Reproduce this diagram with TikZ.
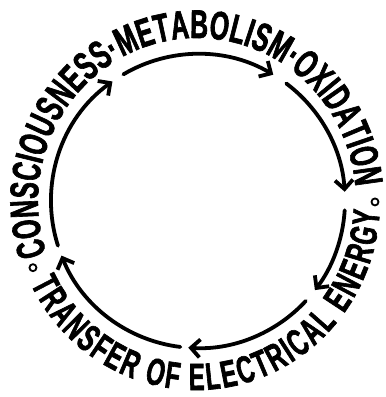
\documentclass[tikz,border=0pt]{standalone}
\usepackage{fontspec}
\setmainfont{Liberation Sans}
\newfontfamily\ringfont{Liberation Sans Bold}[FakeStretch=0.62, FakeBold=1.6]
\usetikzlibrary{arrows.meta,decorations.text}

\begin{document}
\begin{tikzpicture}[x=1pt,y=1pt,
	cyclearrow/.style={line width=3.8pt, line cap=round, -{Straight Barb[length=9pt,width=18pt]}},
	ringtext/.style 2 args={decorate, decoration={text along path, text align=fit to path, text={|\ringfont\fontsize{#1}{#1}\selectfont|#2}}},
	joint/.style={line width=1.8pt}]
	\useasboundingbox (-198,-196) rectangle (188,201);
	\foreach \a/\b in {120.5/59.2, 53.1/3.6, -3.6/-37.3, -42.8/-93.8, -96.9/-158.2, -162.3/-234.4} {
		\draw[cyclearrow] (\a:147) arc[start angle=\a, end angle=\b, radius=147];
	}
	\path[ringtext={40}{CONSCIOUSNESS·METABOLISM·OXIDATION}] ([xshift=-1pt]199:159 and 163) arc[start angle=199, end angle=5, x radius=159, y radius=163];
	\path[ringtext={38}{TRANSFER OF ELECTRICAL ENERGY}] ([xshift=-2pt]206:184 and 189) arc[start angle=206, end angle=357, x radius=184, y radius=189];
	\foreach \p in {202:178, -0.3:177} {
		\draw[joint] (\p) circle[radius=3.5pt];
	}
\end{tikzpicture}
\end{document}
